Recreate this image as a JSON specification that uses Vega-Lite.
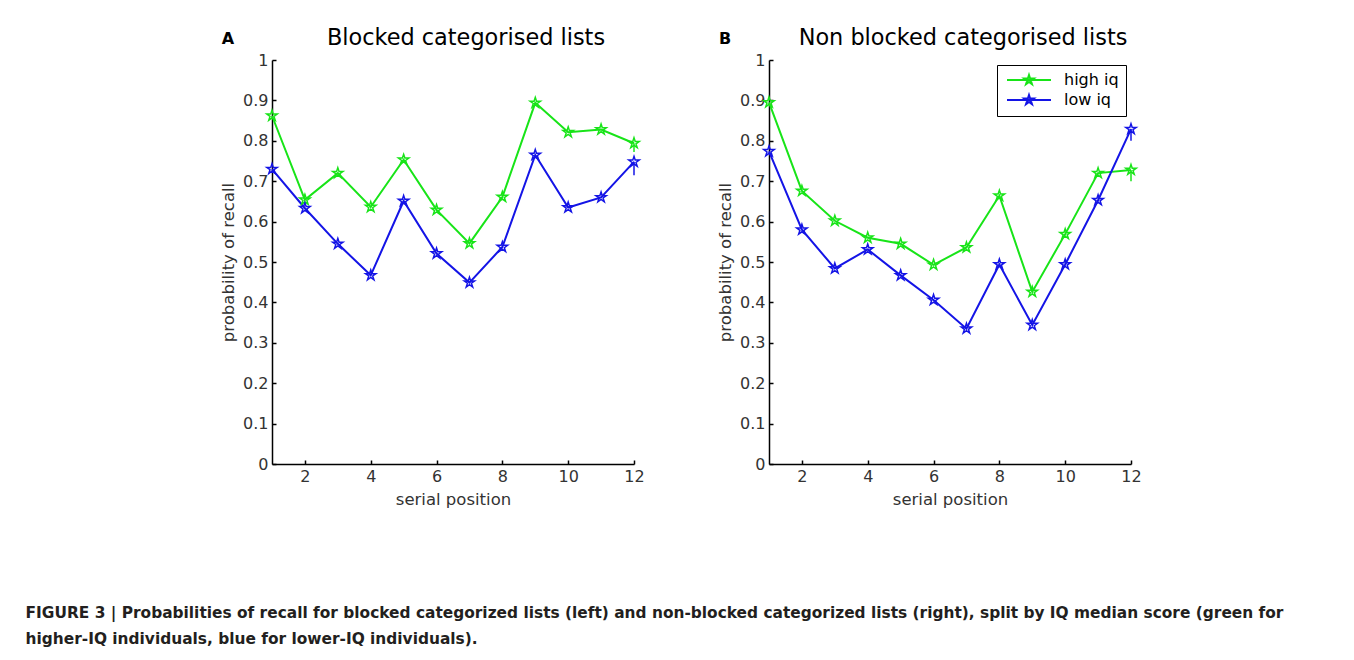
{
  "$schema": "https://vega.github.io/schema/vega-lite/v6.json",
  "background": "white",
  "autosize": {"type": "pad"},
  "padding": {"left": 25, "top": 26, "right": 10, "bottom": 5},
  "datasets": {
    "recall": [
      {"panel": "A", "group": "high iq", "pos": 1, "p": 0.862},
      {"panel": "A", "group": "high iq", "pos": 2, "p": 0.654},
      {"panel": "A", "group": "high iq", "pos": 3, "p": 0.72},
      {"panel": "A", "group": "high iq", "pos": 4, "p": 0.636},
      {"panel": "A", "group": "high iq", "pos": 5, "p": 0.753},
      {"panel": "A", "group": "high iq", "pos": 6, "p": 0.629},
      {"panel": "A", "group": "high iq", "pos": 7, "p": 0.546},
      {"panel": "A", "group": "high iq", "pos": 8, "p": 0.661},
      {"panel": "A", "group": "high iq", "pos": 9, "p": 0.894},
      {"panel": "A", "group": "high iq", "pos": 10, "p": 0.821},
      {"panel": "A", "group": "high iq", "pos": 11, "p": 0.828},
      {"panel": "A", "group": "high iq", "pos": 12, "p": 0.794},
      {"panel": "A", "group": "low iq", "pos": 1, "p": 0.73},
      {"panel": "A", "group": "low iq", "pos": 2, "p": 0.633},
      {"panel": "A", "group": "low iq", "pos": 3, "p": 0.545},
      {"panel": "A", "group": "low iq", "pos": 4, "p": 0.467},
      {"panel": "A", "group": "low iq", "pos": 5, "p": 0.651},
      {"panel": "A", "group": "low iq", "pos": 6, "p": 0.521},
      {"panel": "A", "group": "low iq", "pos": 7, "p": 0.449},
      {"panel": "A", "group": "low iq", "pos": 8, "p": 0.537},
      {"panel": "A", "group": "low iq", "pos": 9, "p": 0.765},
      {"panel": "A", "group": "low iq", "pos": 10, "p": 0.635},
      {"panel": "A", "group": "low iq", "pos": 11, "p": 0.66},
      {"panel": "A", "group": "low iq", "pos": 12, "p": 0.748},
      {"panel": "B", "group": "high iq", "pos": 1, "p": 0.895},
      {"panel": "B", "group": "high iq", "pos": 2, "p": 0.676},
      {"panel": "B", "group": "high iq", "pos": 3, "p": 0.602},
      {"panel": "B", "group": "high iq", "pos": 4, "p": 0.56},
      {"panel": "B", "group": "high iq", "pos": 5, "p": 0.545},
      {"panel": "B", "group": "high iq", "pos": 6, "p": 0.493},
      {"panel": "B", "group": "high iq", "pos": 7, "p": 0.536},
      {"panel": "B", "group": "high iq", "pos": 8, "p": 0.664},
      {"panel": "B", "group": "high iq", "pos": 9, "p": 0.426},
      {"panel": "B", "group": "high iq", "pos": 10, "p": 0.569},
      {"panel": "B", "group": "high iq", "pos": 11, "p": 0.72},
      {"panel": "B", "group": "high iq", "pos": 12, "p": 0.728},
      {"panel": "B", "group": "low iq", "pos": 1, "p": 0.774},
      {"panel": "B", "group": "low iq", "pos": 2, "p": 0.58},
      {"panel": "B", "group": "low iq", "pos": 3, "p": 0.484},
      {"panel": "B", "group": "low iq", "pos": 4, "p": 0.531},
      {"panel": "B", "group": "low iq", "pos": 5, "p": 0.467},
      {"panel": "B", "group": "low iq", "pos": 6, "p": 0.406},
      {"panel": "B", "group": "low iq", "pos": 7, "p": 0.335},
      {"panel": "B", "group": "low iq", "pos": 8, "p": 0.494},
      {"panel": "B", "group": "low iq", "pos": 9, "p": 0.344},
      {"panel": "B", "group": "low iq", "pos": 10, "p": 0.494},
      {"panel": "B", "group": "low iq", "pos": 11, "p": 0.653},
      {"panel": "B", "group": "low iq", "pos": 12, "p": 0.829}
    ],
    "err": [
      {"panel": "A", "group": "high iq", "pos": 12, "lo": 0.772, "hi": 0.794},
      {"panel": "A", "group": "low iq", "pos": 12, "lo": 0.715, "hi": 0.748},
      {"panel": "B", "group": "high iq", "pos": 12, "lo": 0.7, "hi": 0.728},
      {"panel": "B", "group": "low iq", "pos": 12, "lo": 0.8, "hi": 0.829}
    ],
    "letters": [
      {"panel": "A", "label": "A"},
      {"panel": "B", "label": "B"}
    ]
  },
  "title": {
    "text": [
      "FIGURE 3 | Probabilities of recall for blocked categorized lists (left) and non-blocked categorized lists (right), split by IQ median score (green for",
      "higher-IQ individuals, blue for lower-IQ individuals)."
    ],
    "orient": "bottom",
    "anchor": "start",
    "baseline": "top",
    "font": "DejaVu Sans",
    "fontSize": 15.4,
    "fontWeight": "bold",
    "lineHeight": 26,
    "color": "#231f20",
    "dx": -195,
    "offset": 98
  },
  "spacing": 72,
  "resolve": {"legend": {"color": "independent"}},
  "hconcat": [
    {
      "width": 362,
      "height": 404,
      "title": {"text": "Blocked categorised lists", "frame": "group", "baseline": "alphabetic", "offset": -36, "dx": 13, "font": "DejaVu Sans", "fontSize": 22.4, "fontWeight": "normal", "color": "black"},
      "layer": [
        {
          "data": {"name": "recall"},
          "transform": [{"filter": "datum.panel === 'A'"}],
          "mark": {"type": "line", "strokeWidth": 2},
          "encoding": {
            "x": {"field": "pos", "type": "quantitative", "scale": {"domain": [1, 12], "nice": false, "zero": false}, "axis": {"values": [2, 4, 6, 8, 10, 12], "title": "serial position", "titlePadding": 7}},
            "y": {"field": "p", "type": "quantitative", "scale": {"domain": [0, 1], "nice": false}, "axis": {"values": [0, 0.1, 0.2, 0.3, 0.4, 0.5, 0.6, 0.7, 0.8, 0.9, 1], "format": ".1~f", "title": "probability of recall", "titlePadding": 6}},
            "color": {"field": "group", "type": "nominal", "scale": {"domain": ["high iq", "low iq"], "range": ["#18e418", "#1414e6"]}, "legend": null}
          }
        },
        {
          "data": {"name": "err"},
          "transform": [{"filter": "datum.panel === 'A'"}],
          "mark": {"type": "rule", "strokeWidth": 1.5},
          "encoding": {
            "x": {"field": "pos", "type": "quantitative"},
            "y": {"field": "lo", "type": "quantitative"},
            "y2": {"field": "hi"},
            "color": {"field": "group", "type": "nominal", "legend": null}
          }
        },
        {
          "data": {"name": "recall"},
          "transform": [{"filter": "datum.panel === 'A'"}],
          "mark": {"type": "point", "shape": "M0,-1L0.2245,-0.309L0.951,-0.309L0.363,0.118L0.588,0.809L0,0.382L-0.588,0.809L-0.363,0.118L-0.951,-0.309L-0.2245,-0.309Z", "filled": false, "size": 120, "strokeWidth": 1.5, "opacity": 1},
          "encoding": {
            "x": {"field": "pos", "type": "quantitative"},
            "y": {"field": "p", "type": "quantitative"},
            "color": {"field": "group", "type": "nominal", "legend": null}
          }
        },
        {
          "data": {"name": "letters"},
          "transform": [{"filter": "datum.panel === 'A'"}],
          "mark": {"type": "text", "font": "DejaVu Sans", "fontSize": 16, "fontWeight": "bold", "align": "center", "baseline": "alphabetic", "dx": -44, "dy": -16, "color": "black"},
          "encoding": {
            "x": {"datum": 1, "type": "quantitative"},
            "y": {"datum": 1, "type": "quantitative"},
            "text": {"field": "label"}
          }
        }
      ]
    },
    {
      "width": 362,
      "height": 404,
      "title": {"text": "Non blocked categorised lists", "frame": "group", "baseline": "alphabetic", "offset": -36, "dx": 13, "font": "DejaVu Sans", "fontSize": 22.4, "fontWeight": "normal", "color": "black"},
      "layer": [
        {
          "data": {"name": "recall"},
          "transform": [{"filter": "datum.panel === 'B'"}],
          "mark": {"type": "line", "strokeWidth": 2},
          "encoding": {
            "x": {"field": "pos", "type": "quantitative", "scale": {"domain": [1, 12], "nice": false, "zero": false}, "axis": {"values": [2, 4, 6, 8, 10, 12], "title": "serial position", "titlePadding": 7}},
            "y": {"field": "p", "type": "quantitative", "scale": {"domain": [0, 1], "nice": false}, "axis": {"values": [0, 0.1, 0.2, 0.3, 0.4, 0.5, 0.6, 0.7, 0.8, 0.9, 1], "format": ".1~f", "title": "probability of recall", "titlePadding": 6}},
            "color": {"field": "group", "type": "nominal", "scale": {"domain": ["high iq", "low iq"], "range": ["#18e418", "#1414e6"]},
              "legend": {"title": null, "orient": "top-right", "offset": 5, "strokeColor": "black", "fillColor": "white", "padding": 7, "labelFont": "DejaVu Sans", "labelFontSize": 16, "labelColor": "black", "labelOffset": 44, "rowPadding": 2, "symbolSize": 100, "symbolStrokeWidth": 2, "symbolType": "M-1,0L7.8,0M3.4,-1L3.6245,-0.309L4.351,-0.309L3.763,0.118L3.988,0.809L3.4,0.382L2.812,0.809L3.037,0.118L2.449,-0.309L3.1755,-0.309Z"}}
          }
        },
        {
          "data": {"name": "err"},
          "transform": [{"filter": "datum.panel === 'B'"}],
          "mark": {"type": "rule", "strokeWidth": 1.5},
          "encoding": {
            "x": {"field": "pos", "type": "quantitative"},
            "y": {"field": "lo", "type": "quantitative"},
            "y2": {"field": "hi"},
            "color": {"field": "group", "type": "nominal"}
          }
        },
        {
          "data": {"name": "recall"},
          "transform": [{"filter": "datum.panel === 'B'"}],
          "mark": {"type": "point", "shape": "M0,-1L0.2245,-0.309L0.951,-0.309L0.363,0.118L0.588,0.809L0,0.382L-0.588,0.809L-0.363,0.118L-0.951,-0.309L-0.2245,-0.309Z", "filled": false, "size": 120, "strokeWidth": 1.5, "opacity": 1},
          "encoding": {
            "x": {"field": "pos", "type": "quantitative"},
            "y": {"field": "p", "type": "quantitative"},
            "color": {"field": "group", "type": "nominal"}
          }
        },
        {
          "data": {"name": "letters"},
          "transform": [{"filter": "datum.panel === 'B'"}],
          "mark": {"type": "text", "font": "DejaVu Sans", "fontSize": 16, "fontWeight": "bold", "align": "center", "baseline": "alphabetic", "dx": -44, "dy": -16, "color": "black"},
          "encoding": {
            "x": {"datum": 1, "type": "quantitative"},
            "y": {"datum": 1, "type": "quantitative"},
            "text": {"field": "label"}
          }
        }
      ]
    }
  ],
  "config": {
    "view": {"stroke": null},
    "font": "DejaVu Sans",
    "axis": {
      "grid": false,
      "domainColor": "black",
      "domainWidth": 1.5,
      "tickColor": "black",
      "tickWidth": 1.5,
      "tickSize": -4,
      "labelPadding": 8,
      "labelFont": "DejaVu Sans",
      "labelFontSize": 16,
      "labelColor": "#333333",
      "labelFlush": false,
      "labelOverlap": false,
      "titleFont": "DejaVu Sans",
      "titleFontSize": 16.5,
      "titleFontWeight": "normal",
      "titleColor": "#333333"
    }
  }
}
